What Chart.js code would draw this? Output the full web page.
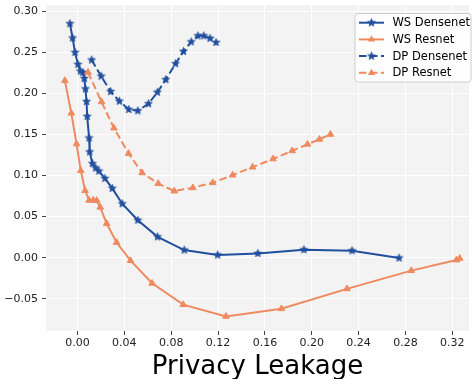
<!DOCTYPE html>
<html>
<head>
<meta charset="utf-8">
<script src="https://cdn.jsdelivr.net/npm/chart.js@4.4.0/dist/chart.umd.min.js"></script>
<style>
  html,body{margin:0;padding:0;background:#fff;}
  #c{display:block;}
</style>
</head>
<body>
<canvas id="c" width="474" height="379"></canvas>
<script>
/* privacy leakage vs. metric — WS / DP, Densenet / Resnet */
const xTicks=[0,0.04,0.08,0.12,0.16,0.20,0.24,0.28,0.32];
const yTicks=[-0.05,0,0.05,0.10,0.15,0.20,0.25,0.30];
const seriesNames=['WS Densenet','WS Resnet','DP Densenet','DP Resnet'];

const wsDenseX=[-0.0065,-0.0042,-0.0021,0.0004,0.0024,0.0045,0.0058,0.0068,0.0077,0.0083,0.0099,0.0104,0.0127,0.0155,0.0183,0.0234,0.0297,0.0382,0.0515,0.0684,0.0911,0.1197,0.1540,0.1933,0.2344,0.2746];
const wsDenseY=[0.2848,0.2673,0.2498,0.2352,0.2270,0.2254,0.2180,0.2054,0.1900,0.1719,0.1456,0.1287,0.1146,0.1093,0.1053,0.0965,0.0844,0.0657,0.0456,0.0254,0.0093,0.0033,0.0052,0.0097,0.0085,-0.0004];

const wsResX=[-0.0108,-0.0053,-0.0008,0.0028,0.0065,0.0099,0.0134,0.0164,0.0194,0.0249,0.0334,0.0453,0.0637,0.0903,0.1268,0.1741,0.2301,0.2850,0.3236,0.3264];
const wsResY=[0.2155,0.1759,0.1384,0.1059,0.0817,0.0699,0.0699,0.0696,0.0614,0.0415,0.0185,-0.0036,-0.0311,-0.0571,-0.0714,-0.0621,-0.0379,-0.0157,-0.0028,-0.0008];

const dpDenseX=[0.0121,0.0202,0.0283,0.0358,0.0438,0.0515,0.0606,0.0682,0.0754,0.0837,0.0905,0.0971,0.1028,0.1079,0.1132,0.1183];
const dpDenseY=[0.2406,0.2209,0.2022,0.1904,0.1804,0.1788,0.1874,0.2013,0.2167,0.2361,0.2510,0.2627,0.2700,0.2700,0.2669,0.2619];

const dpResX=[0.0090,0.0205,0.0311,0.0436,0.0552,0.0689,0.0826,0.0985,0.1155,0.1325,0.1495,0.1670,0.1833,0.1964,0.2066,0.2160];
const dpResY=[0.2255,0.1897,0.1577,0.1268,0.1033,0.0902,0.0811,0.0851,0.0912,0.1005,0.1102,0.1202,0.1301,0.1380,0.1441,0.1501];

const BLUE='#214f9e', ORANGE='#ef8a5f', BG='#f3f3f3', TXT='#222', DASH=[7.5,3.5];

function pts(xs,ys){return xs.map((x,i)=>({x,y:ys[i]}));}
function starCanvas(color,r){
  const s=Math.ceil(r*2+2),c=document.createElement('canvas');
  c.width=c.height=s;
  const g=c.getContext('2d');
  g.fillStyle=color;g.strokeStyle=color;g.lineWidth=0.6;
  g.beginPath();
  for(let i=0;i<10;i++){
    const rad=i%2?r*0.45:r, a=-Math.PI/2+i*Math.PI/5;
    g.lineTo(s/2+rad*Math.cos(a),s/2+rad*Math.sin(a));
  }
  g.closePath();g.fill();g.stroke();
  return c;
}
const STAR=starCanvas(BLUE,4.2);

function ds(label,data,color,dashed,star,order){
  return {label,data,borderColor:color,backgroundColor:color,borderWidth:2,
    borderDash:dashed?DASH:[],tension:0,order,
    pointStyle:star?STAR:'triangle',pointRadius:star?4:3.8,
    pointBackgroundColor:color,pointBorderColor:color,pointBorderWidth:star?0:1};
}

const bgPlugin={id:'bg',beforeDraw(chart){
  const a=chart.chartArea,ctx=chart.ctx;
  ctx.save();ctx.fillStyle=BG;ctx.fillRect(a.left,a.top,a.right-a.left,a.bottom-a.top);ctx.restore();
}};

// matplotlib-style legend box in the upper right
const legendPlugin={id:'mlegend',afterDraw(chart){
  const ctx=chart.ctx,bx=355,by=13.5,bw=116,bh=68.5,r=3;
  ctx.save();
  ctx.beginPath();
  ctx.moveTo(bx+r,by);ctx.arcTo(bx+bw,by,bx+bw,by+bh,r);ctx.arcTo(bx+bw,by+bh,bx,by+bh,r);
  ctx.arcTo(bx,by+bh,bx,by,r);ctx.arcTo(bx,by,bx+bw,by,r);ctx.closePath();
  ctx.fillStyle='rgba(255,255,255,0.85)';ctx.fill();
  ctx.strokeStyle='#cccccc';ctx.lineWidth=1;ctx.stroke();
  chart.data.datasets.forEach((d,i)=>{
    const y=22.7+i*16.7;
    ctx.strokeStyle=d.borderColor;ctx.lineWidth=2;ctx.setLineDash(d.borderDash);
    ctx.beginPath();ctx.moveTo(359,y);ctx.lineTo(384,y);ctx.stroke();
    ctx.setLineDash([]);
    if(d.pointStyle==='triangle'){
      ctx.fillStyle=d.borderColor;ctx.beginPath();
      for(let k=0;k<3;k++){const a=-Math.PI/2+k*2*Math.PI/3;ctx.lineTo(371.5+4.2*Math.cos(a),y+4.2*Math.sin(a));}
      ctx.closePath();ctx.fill();
    }else{
      ctx.drawImage(d.pointStyle,371.5-d.pointStyle.width/2,y-d.pointStyle.height/2);
    }
    ctx.fillStyle='#000';ctx.font='11.5px "DejaVu Sans"';ctx.textBaseline='middle';ctx.textAlign='left';
    ctx.fillText(d.label,392.5,y+0.5);
  });
  ctx.restore();
}};

const fmt=v=>{const s=Math.abs(v).toFixed(2);return v<-1e-9?'\u2212'+s:s;};

new Chart(document.getElementById('c'),{
  type:'line',
  data:{datasets:[
    ds(seriesNames[0],pts(wsDenseX,wsDenseY),BLUE,false,true,3),
    ds(seriesNames[1],pts(wsResX,wsResY),ORANGE,false,false,2),
    ds(seriesNames[2],pts(dpDenseX,dpDenseY),BLUE,true,true,1),
    ds(seriesNames[3],pts(dpResX,dpResY),ORANGE,true,false,0)
  ]},
  options:{
    responsive:false,animation:false,devicePixelRatio:1,
    layout:{padding:{top:3,right:3,left:0,bottom:0}},
    plugins:{legend:{display:false},tooltip:{enabled:false}},
    scales:{
      x:{type:'linear',min:-0.0269,max:0.3343,
        afterBuildTicks:s=>{s.ticks=xTicks.map(v=>({value:v}));},
        afterFit:s=>{s.height=48;s.paddingLeft=0;s.paddingRight=0;},
        ticks:{callback:fmt,color:TXT,padding:2,maxRotation:0,font:{family:'DejaVu Sans',size:11}},
        grid:{color:'#ffffff',lineWidth:1,drawTicks:true,tickLength:4,tickColor:'#444',tickWidth:1},
        border:{display:false},
        title:{display:true,text:'Privacy Leakage',color:'#000',font:{family:'DejaVu Sans',size:26,lineHeight:0.9},padding:{top:0,bottom:0}}},
      y:{type:'linear',min:-0.0892,max:0.3075,
        afterBuildTicks:s=>{s.ticks=yTicks.map(v=>({value:v}));},
        afterFit:s=>{s.width=46;s.paddingTop=0;s.paddingBottom=0;},
        ticks:{callback:fmt,color:TXT,padding:4,font:{family:'DejaVu Sans',size:11}},
        grid:{color:'#ffffff',lineWidth:1,drawTicks:true,tickLength:4,tickColor:'#444',tickWidth:1},
        border:{display:false}}
    }
  },
  plugins:[bgPlugin,legendPlugin]
});
</script>
</body>
</html>
